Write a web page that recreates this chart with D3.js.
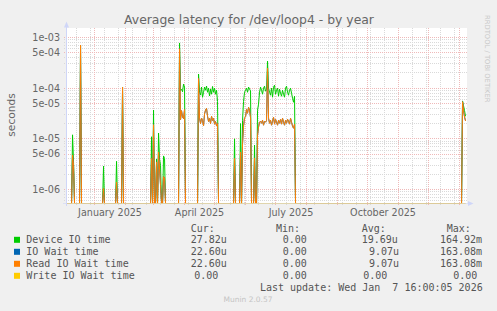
<!DOCTYPE html>
<html>
<head>
<meta charset="utf-8">
<title>Average latency for /dev/loop4 - by year</title>
<script src="https://cdnjs.cloudflare.com/ajax/libs/d3/7.8.5/d3.min.js"></script>
<style>
body { margin: 0; background: #f0f0f0; }
svg text { font-family: "DejaVu Sans", sans-serif; fill: #666; }
svg text.mono { font-family: "DejaVu Sans Mono", monospace; font-size: 10px; fill: #555; }
</style>
</head>
<body>
<script>
var w = 497, h = 311;
var plot = {left: 66, right: 466, top: 28, bottom: 203};

// graph period: 400 days up to the last update
var tStart = new Date(Date.UTC(2024, 11, 3, 16));
var tEnd = new Date(Date.UTC(2026, 0, 7, 16));

var seriesNames = ["Device IO time", "IO Wait time", "Read IO Wait time", "Write IO Wait time"];
var seriesColors = ["#00CC00", "#0066B3", "#FF8000", "#FFCC00"];

// daily averages (seconds); days not listed are 0
var runStart = ["2024-12-10", "2024-12-18", "2025-01-10", "2025-01-23", "2025-01-29",
  "2025-02-27", "2025-03-04", "2025-03-27", "2025-04-15", "2025-05-21", "2025-05-27",
  "2025-05-29", "2025-06-10", "2025-06-13", "2026-01-04"];

var deviceIO = [
  [1.2e-5, 3.5e-6],
  [7.05e-4],
  [2.9e-6],
  [3.6e-6],
  [1.05e-4],
  [1.1e-5, 0, 3.7e-5],
  [4e-6, 0, 1.3e-5, 4e-6, 3e-6, 0, 0, 4.6e-6, 4.1e-6],
  [7.8e-4, 9e-5, 9.5e-5, 8.5e-5, 1.2e-4, 1.05e-4],
  [1.9e-4, 8.3e-5, 7.3e-5, 1.05e-4, 6.6e-5, 8.3e-5, 1.05e-4, 9.1e-5, 1.1e-4, 8.3e-5,
   1.0e-4, 7.0e-5, 9.6e-5, 7.6e-5, 1.08e-4, 8.3e-5, 1.0e-4, 7.6e-5, 9.1e-5, 5.5e-5],
  [1.0e-5],
  [2.0e-5],
  [2.3e-5, 5.5e-5, 8.3e-5, 9.1e-5, 1.0e-4, 8.3e-5, 1.05e-4, 9.6e-5, 8.8e-5],
  [7.5e-6],
  [3.67e-5, 4.83e-5, 8.32e-5, 1.045e-4, 9.12e-5, 7.6e-5, 9.99e-5, 1.094e-4, 8.71e-5, 9.5e-5,
   3.41e-4, 9.99e-5, 8.32e-5, 7.26e-5, 9.99e-5, 6.63e-5, 1.045e-4, 1.145e-4, 7.6e-5, 9.12e-5,
   9.99e-5, 6.94e-5, 9.54e-5, 7.96e-5, 6.94e-5, 9.12e-5, 7.6e-5, 6.63e-5, 9.99e-5, 1.094e-4,
   8.32e-5, 7.26e-5, 9.12e-5, 9.99e-5, 7.96e-5, 6.34e-5, 5.28e-5, 6.94e-5],
  [5.6e-5, 4.5e-5, 3.6e-5, 2.78e-5]
];

var readIOWait = [
  [4.8e-6, 3.0e-6],
  [7.05e-4],
  [1.05e-6],
  [1.4e-6],
  [1.05e-4],
  [4.1e-6, 0, 1.9e-5],
  [3.5e-6, 0, 5.5e-6, 2.5e-6, 1.2e-6, 0, 0, 1.8e-6, 1.7e-6],
  [6.0e-4, 2.4e-5, 3.6e-5, 2.7e-5, 2.5e-5, 3.8e-5],
  [1.55e-4, 2.55e-5, 2.0e-5, 2.55e-5, 2.3e-5, 1.8e-5, 3.1e-5, 3.7e-5, 4.0e-5, 2.8e-5,
   2.2e-5, 2.55e-5, 2.0e-5, 2.8e-5, 2.3e-5, 2.55e-5, 1.95e-5, 2.2e-5, 1.8e-5, 2.0e-5],
  [4.1e-6],
  [5.5e-6],
  [8e-6, 1.8e-5, 2.6e-5, 2.7e-5, 3.8e-5, 3.2e-5, 4.2e-5, 3.7e-5, 2.6e-5],
  [4.2e-6],
  [1.18e-5, 1.7e-5, 2.13e-5, 2.23e-5, 2.03e-5, 2.33e-5, 1.86e-5, 2.23e-5, 2.13e-5, 2.3e-5,
   2.48e-4, 2.55e-5, 2.03e-5, 2.33e-5, 1.86e-5, 2.23e-5, 2.67e-5, 1.95e-5, 2.44e-5, 2.13e-5,
   1.86e-5, 2.33e-5, 2.03e-5, 2.44e-5, 1.95e-5, 2.55e-5, 2.13e-5, 1.86e-5, 2.33e-5, 2.03e-5,
   2.44e-5, 2.23e-5, 1.95e-5, 2.55e-5, 2.13e-5, 1.78e-5, 1.62e-5, 1.95e-5],
  [5.4e-5, 3.6e-5, 2.7e-5, 2.26e-5]
];

// IO wait is the same as read IO wait here, write IO wait stays at 0
var ioWait = readIOWait;
var writeIOWait = [];

var yTickValues = [1e-3, 5e-4, 1e-4, 5e-5, 1e-5, 5e-6, 1e-6];
var yTickLabels = ["1e-03", "5e-04", "1e-04", "5e-05", "1e-05", "5e-06", "1e-06"];
var xTickLabels = ["January 2025", "April 2025", "July 2025", "October 2025"];

var legendHeader = ["Cur:", "Min:", "Avg:", "Max:"];
var legendCur = ["27.82u", "22.60u", "22.60u", "0.00"];
var legendMin = ["0.00", "0.00", "0.00", "0.00"];
var legendAvg = ["19.69u", "9.07u", "9.07u", "0.00"];
var legendMax = ["164.92m", "163.08m", "163.08m", "0.00"];
var lastUpdate = "Last update: Wed Jan  7 16:00:05 2026";

// column x for each legend row (rrdtool justifies every line on its own)
var colX = [[190.7, 282.7, 361.7, 440], [190.7, 282.7, 369, 440],
            [190.7, 282.7, 369, 440], [194.3, 282.7, 363.3, 453.3]];

var svg = d3.select("body").append("svg")
  .attr("width", w).attr("height", h);

svg.append("rect").attr("width", w).attr("height", h).attr("fill", "#f0f0f0");

var x = d3.scaleUtc().domain([tStart, tEnd]).range([66.2, 466.2]);
var yMin = 5.415e-7, yMax = 1.54e-3;
var y = d3.scaleLog().domain([yMin, yMax]).range([plot.bottom, plot.top]);

var days = d3.utcDay.range(d3.utcDay.ceil(tStart), tEnd);

function buildSeries(runs) {
  var byDay = {};
  runs.forEach(function(vals, i) {
    var d0 = new Date(runStart[i] + "T00:00:00Z");
    vals.forEach(function(v, k) { byDay[+d3.utcDay.offset(d0, k)] = v; });
  });
  return days.map(function(d) { return {date: d, value: byDay[+d] || 0}; });
}

var series = [buildSeries(deviceIO), buildSeries(ioWait), buildSeries(readIOWait), buildSeries(writeIOWait)];

// canvas
svg.append("rect")
  .attr("x", plot.left).attr("y", plot.top)
  .attr("width", plot.right - plot.left + 1).attr("height", plot.bottom - plot.top)
  .attr("fill", "#ffffff");

var px = function(v) { return Math.floor(v) + 0.5; };

// minor grid
var minorY = [];
[1e-7, 1e-6, 1e-5, 1e-4, 1e-3].forEach(function(dec) {
  [2, 3, 4, 6, 7, 8, 9].forEach(function(k) {
    var v = k * dec;
    if (v > yMin && v < yMax) minorY.push(v);
  });
});
// every second week
var minorX = d3.range(0, 30).map(function(i) { return d3.utcDay.offset(new Date(Date.UTC(2024, 11, 14)), 14 * i); })
  .filter(function(d) { return d > tStart && d < tEnd; });

var grid = svg.append("g").attr("fill", "none").attr("stroke-width", 1).attr("stroke-dasharray", "1,1");

grid.selectAll(".minx").data(minorX).enter().append("line")
  .attr("x1", function(d) { return px(x(d)); }).attr("x2", function(d) { return px(x(d)); })
  .attr("y1", plot.top).attr("y2", plot.bottom + 2)
  .attr("stroke", "#d9d9d9");

grid.selectAll(".miny").data(minorY).enter().append("line")
  .attr("x1", plot.left - 2).attr("x2", plot.right + 2)
  .attr("y1", function(d) { return px(y(d)); }).attr("y2", function(d) { return px(y(d)); })
  .attr("stroke", "#d9d9d9");

var majorX = d3.utcMonth.range(d3.utcMonth.ceil(tStart), tEnd);
grid.selectAll(".majx").data(majorX).enter().append("line")
  .attr("x1", function(d) { return px(x(d)); }).attr("x2", function(d) { return px(x(d)); })
  .attr("y1", plot.top).attr("y2", plot.bottom + 2)
  .attr("stroke", "#efb9b9");

grid.selectAll(".majy").data(yTickValues).enter().append("line")
  .attr("x1", plot.left - 2).attr("x2", plot.right + 2)
  .attr("y1", function(d) { return px(y(d)); }).attr("y2", function(d) { return px(y(d)); })
  .attr("stroke", "#efb9b9");

// data lines
svg.append("clipPath").attr("id", "clip").append("rect")
  .attr("x", plot.left).attr("y", plot.top)
  .attr("width", plot.right - plot.left + 1).attr("height", plot.bottom - plot.top + 1);

var line = d3.line()
  .x(function(d) { return x(d.date); })
  .y(function(d) { return d.value > yMin ? y(d.value) : plot.bottom + 0.5; });

svg.append("g").attr("clip-path", "url(#clip)")
  .selectAll("path").data(series).enter().append("path")
  .attr("d", line)
  .attr("fill", "none")
  .attr("stroke", function(d, i) { return seriesColors[i]; })
  .attr("stroke-width", 1);

// axes
var axisColor = "#CFD6F8";
svg.append("line")
  .attr("x1", plot.left - 3).attr("x2", plot.right + 2)
  .attr("y1", plot.bottom + 0.5).attr("y2", plot.bottom + 0.5)
  .attr("stroke", axisColor).attr("stroke-opacity", 0.6);
svg.append("line")
  .attr("x1", plot.left + 0.5).attr("x2", plot.left + 0.5)
  .attr("y1", plot.bottom + 3).attr("y2", plot.top - 2)
  .attr("stroke", axisColor);
svg.append("path")
  .attr("d", "M64,27.5L66.5,21.5L69,27.5Z").attr("fill", axisColor);
svg.append("path")
  .attr("d", "M468,201L473.5,203.5L468,206Z").attr("fill", axisColor);

// y tick labels
svg.selectAll(".ylab").data(yTickValues).enter().append("text")
  .attr("x", 60).attr("y", function(d) { return y(d) + 3.4; })
  .attr("text-anchor", "end").attr("font-size", "9.6px")
  .text(function(d, i) { return yTickLabels[i]; });

// x labels centred in their month
var labelMonths = d3.utcMonth.every(3).range(d3.utcMonth.ceil(tStart), tEnd);
svg.selectAll(".xlab").data(labelMonths).enter().append("text")
  .attr("x", function(d) { return x(new Date((+d + +d3.utcMonth.offset(d, 1)) / 2)); })
  .attr("y", 216)
  .attr("text-anchor", "middle").attr("font-size", "9.6px")
  .text(function(d, i) { return xTickLabels[i]; });

// title and side texts
svg.append("text").attr("x", 249).attr("y", 24)
  .attr("text-anchor", "middle").attr("font-size", "12.4px")
  .text("Average latency for /dev/loop4 - by year");

svg.append("text").attr("transform", "translate(15,115) rotate(-90)")
  .attr("text-anchor", "middle").attr("font-size", "10.6px")
  .text("seconds");

svg.append("text").attr("transform", "translate(485,15) rotate(90)")
  .attr("font-size", "6.8px").style("fill", "#c8c8c8")
  .text("RRDTOOL / TOBI OETIKER");

// legend
var headX = [190.7, 276, 361.7, 446.7];
svg.selectAll(".lhead").data(legendHeader).enter().append("text")
  .attr("class", "mono").attr("x", function(d, i) { return headX[i]; }).attr("y", 231.7)
  .text(function(d) { return d; });

seriesNames.forEach(function(name, i) {
  var by = 243.3 + i * 12;
  svg.append("rect").attr("x", 14).attr("y", by - 6.5).attr("width", 6).attr("height", 6)
    .attr("fill", seriesColors[i]);
  svg.append("text").attr("class", "mono").attr("x", 26.3).attr("y", by).text(name);
  [legendCur[i], legendMin[i], legendAvg[i], legendMax[i]].forEach(function(v, j) {
    svg.append("text").attr("class", "mono").attr("x", colX[i][j]).attr("y", by).text(v);
  });
});

svg.append("text").attr("class", "mono").attr("x", 482.7).attr("y", 291)
  .attr("text-anchor", "end").style("white-space", "pre")
  .text(lastUpdate);

svg.append("text").attr("x", 248).attr("y", 302.3)
  .attr("text-anchor", "middle").attr("font-size", "7.5px").style("fill", "#c4c4c4")
  .text("Munin 2.0.57");
</script>
</body>
</html>
